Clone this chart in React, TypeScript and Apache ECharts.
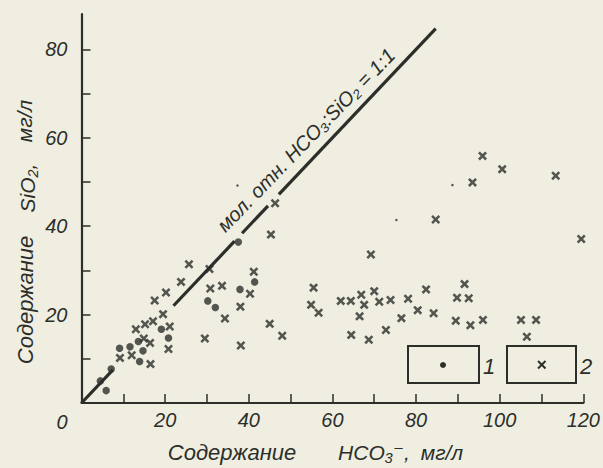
import React, { useEffect, useRef } from 'react';
import * as echarts from 'echarts';

// ---- data ----
const xTickValues = [10, 20, 30, 40, 50, 60, 70, 80, 90, 100, 110, 120];
const xLabelValues = [20, 40, 60, 80, 100, 120];
const yTickValues = [10, 20, 30, 40, 50, 60, 70, 80];
const yLabelValues = [20, 40, 60, 80];

// type 1: filled circles
const dotData = [
  [4.5, 5.0], [5.9, 2.8], [7.1, 7.7], [9.1, 12.4], [11.6, 12.7], [13.6, 13.9],
  [14.7, 11.8], [13.9, 9.4], [19.1, 16.7], [20.8, 14.7], [30.2, 23.1], [32.0, 21.6],
  [37.9, 25.7], [37.5, 36.4], [41.4, 27.4],
];

// tiny specks printed on the sheet
const speckData = [[37.3, 49.2], [75.3, 41.4], [88.7, 49.3]];

// type 2: crosses
const crossData = [
  [25.7, 31.4], [30.6, 30.3], [23.8, 27.4], [20.2, 25.0], [17.5, 23.2], [19.5, 20.1],
  [30.8, 25.9], [33.6, 26.5], [41.2, 29.7], [40.3, 24.7], [38.0, 21.8], [34.3, 19.1],
  [29.5, 14.6], [38.1, 13.0], [13.0, 16.7], [15.2, 17.8], [17.1, 18.5], [14.9, 14.6],
  [16.4, 13.6], [21.1, 17.3], [20.8, 12.2], [9.2, 10.2], [12.0, 10.8], [16.5, 8.8],
  [46.3, 45.2], [45.3, 38.1], [69.2, 33.6], [55.5, 26.1], [54.9, 22.2], [56.7, 20.4],
  [45.0, 17.9], [48.0, 15.2], [62.0, 23.1], [64.4, 23.1], [66.9, 24.5], [67.6, 22.2],
  [70.0, 25.3], [71.2, 22.9], [73.9, 23.3], [78.1, 23.6], [82.4, 25.7], [80.4, 21.0],
  [84.2, 20.3], [76.5, 19.2], [66.5, 19.6], [64.5, 15.4], [68.7, 14.3], [72.8, 16.5],
  [84.7, 41.5], [95.9, 55.9], [100.6, 52.9], [93.5, 49.9], [113.4, 51.4], [119.5, 37.1],
  [91.6, 26.9], [89.8, 23.8], [92.6, 23.7], [89.5, 18.6], [93.0, 17.6], [96.0, 18.8],
  [105.1, 18.8], [108.7, 18.8], [106.5, 15.0],
];

// 1:1 molar ratio line, drawn in pieces (broken where points sit on it)
const ratioLineSegments = [[0, 7.5], [22, 36.6], [38.4, 44.6], [47.2, 84.7]];

const ratioLabel = 'мол. отн. HCO₃:SiO₂ = 1:1';
const xTitleParts = ['Содержание', 'HCO₃⁻,', 'мг/л'];
const yTitleParts = ['Содержание', 'SiO₂,', 'мг/л'];
const legendLabels = ['1', '2'];
const originLabel = '0';

const INK = '#2c2e2a';
const PAPER = '#efeee1';
const FONT = '"Liberation Sans", "DejaVu Sans", sans-serif';
const CROSS = 'path://M0,2 L2,0 L5,3 L8,0 L10,2 L7,5 L10,8 L8,10 L5,7 L2,10 L0,8 L3,5 Z';

export default function App() {
  const ref = useRef<HTMLDivElement>(null);

  useEffect(() => {
    if (!ref.current) return;
    const chart = echarts.init(ref.current, null, { renderer: 'svg' });

    const lineSeries = ratioLineSegments.map(([a, b]) => ({
      type: 'line',
      data: [[a, a], [b, b]],
      symbol: 'none',
      silent: true,
      lineStyle: { color: INK, width: 3.2 },
      z: 1,
    }));

    const txt = (x: number, y: number, text: string, size: number, extra: any = {}) => ({
      type: 'text',
      x,
      y,
      silent: true,
      style: {
        text,
        fill: INK,
        font: `italic ${size}px ${FONT}`,
        textAlign: 'center',
        textVerticalAlign: 'middle',
      },
      ...extra,
    });

    const axisLabelStyle = {
      color: INK,
      fontSize: 20,
      fontStyle: 'italic',
      fontFamily: FONT,
    };

    const option: any = {
      animation: false,
      backgroundColor: PAPER,
      grid: { left: 81.5, right: 11.5, top: 14, bottom: 65, containLabel: false },
      xAxis: {
        type: 'value',
        min: 0,
        max: 120,
        interval: 10,
        splitLine: { show: false },
        axisLine: { lineStyle: { color: INK, width: 2.2 } },
        axisTick: {
          inside: true,
          length: 9,
          customValues: xTickValues,
          lineStyle: { color: INK, width: 1.5 },
        },
        axisLabel: { ...axisLabelStyle, customValues: xLabelValues, margin: 7 },
      },
      yAxis: {
        type: 'value',
        min: 0,
        max: 88,
        interval: 10,
        splitLine: { show: false },
        axisLine: { lineStyle: { color: INK, width: 2.2 } },
        axisTick: {
          inside: true,
          length: 9,
          customValues: yTickValues,
          lineStyle: { color: INK, width: 1.5 },
        },
        axisLabel: { ...axisLabelStyle, customValues: yLabelValues, margin: 14 },
      },
      series: [
        ...lineSeries,
        {
          type: 'scatter',
          data: speckData,
          symbol: 'circle',
          symbolSize: 2.5,
          itemStyle: { color: INK },
          z: 3,
        },
        {
          type: 'scatter',
          data: dotData,
          symbol: 'circle',
          symbolSize: 7.5,
          itemStyle: { color: INK },
          z: 3,
        },
        {
          type: 'scatter',
          data: crossData,
          symbol: CROSS,
          symbolSize: 9,
          itemStyle: { color: INK },
          z: 3,
        },
      ],
      graphic: [
        txt(306, 140, ratioLabel, 20, { rotation: (46 * Math.PI) / 180 }),
        txt(62, 422, originLabel, 20),
        // x title
        txt(232, 452, xTitleParts[0], 22),
        txt(374, 452, xTitleParts[1], 21),
        txt(442, 452, xTitleParts[2], 21),
        // y title
        txt(25, 300, yTitleParts[0], 22, { rotation: Math.PI / 2 }),
        txt(27, 188, yTitleParts[1], 21, { rotation: Math.PI / 2 }),
        txt(24, 121, yTitleParts[2], 21, { rotation: Math.PI / 2 }),
        // legend
        {
          type: 'rect',
          shape: { x: 408, y: 346, width: 71, height: 37 },
          style: { fill: 'none', stroke: INK, lineWidth: 2 },
          silent: true,
        },
        { type: 'circle', shape: { cx: 443, cy: 365, r: 3 }, style: { fill: INK }, silent: true },
        txt(489, 366, legendLabels[0], 22),
        {
          type: 'rect',
          shape: { x: 507, y: 346, width: 69, height: 37 },
          style: { fill: 'none', stroke: INK, lineWidth: 2 },
          silent: true,
        },
        {
          type: 'line',
          shape: { x1: 538, y1: 361, x2: 545.5, y2: 368.5 },
          style: { stroke: INK, lineWidth: 2 },
          silent: true,
        },
        {
          type: 'line',
          shape: { x1: 545.5, y1: 361, x2: 538, y2: 368.5 },
          style: { stroke: INK, lineWidth: 2 },
          silent: true,
        },
        txt(586, 366, legendLabels[1], 22),
      ],
    };

    chart.setOption(option);
    return () => chart.dispose();
  }, []);

  return (
    <div
      ref={ref}
      style={{ position: 'absolute', left: 0, top: 0, width: 603, height: 468 }}
    />
  );
}
